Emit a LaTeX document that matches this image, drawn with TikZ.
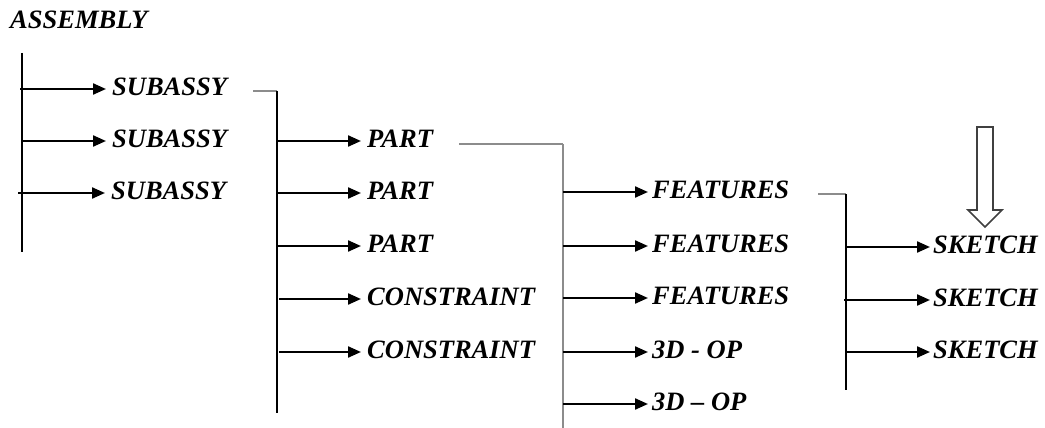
\documentclass[tikz,border=0pt]{standalone}
\usepackage{fontspec}
\setmainfont{Liberation Serif}
\usetikzlibrary{arrows.meta}
\tikzset{
  lbl/.style={anchor=west,inner xsep=6pt,inner ysep=0pt,font=\fontsize{26.5}{30}\selectfont\bfseries\itshape},
  arr/.style={line width=2.2pt,-{Triangle[length=13pt,width=11pt]}},
  trunk/.style={line width=1.6pt,black},
  gtrunk/.style={line width=1.6pt,black!45},
  stub/.style={line width=1.6pt,black!45},
  hollow/.style={line width=1.6pt,black!75,fill=white}
}
\begin{document}
\begin{tikzpicture}[x=1pt,y=-1pt]
\useasboundingbox (0,0) rectangle (1045,428);
% title
\node[lbl,inner xsep=0pt] (asm) at (10,20) {ASSEMBLY};
% level 1
\coordinate (v1t) at (22,53);
\coordinate (v1b) at (22,252);
\draw[trunk] (v1t) -- (v1b);
\coordinate (a1) at (20,89);
\coordinate (a2) at (22,141);
\coordinate (a3) at (18,193);
\node[lbl] (s1) at (106,87) {SUBASSY};
\node[lbl] (s2) at (106,139) {SUBASSY};
\node[lbl] (s3) at (105,191) {SUBASSY};
\draw[arr] (a1) -- (a1 -| s1.west);
\draw[arr] (a2) -- (a2 -| s2.west);
\draw[arr] (a3) -- (a3 -| s3.west);
% level 2
\coordinate (v2t) at (277,91);
\coordinate (v2b) at (277,413);
\draw[stub] ([xshift=20pt]s1.east |- v2t) -- (v2t);
\draw[trunk] (v2t) -- (v2b);
\coordinate (b1) at (277,141);
\coordinate (b2) at (277,193);
\coordinate (b3) at (277,246);
\coordinate (b4) at (279,299);
\coordinate (b5) at (279,352);
\node[lbl] (p1) at (361,139) {PART};
\node[lbl] (p2) at (361,191) {PART};
\node[lbl] (p3) at (361,244) {PART};
\node[lbl] (c1) at (361,297) {CONSTRAINT};
\node[lbl] (c2) at (361,350) {CONSTRAINT};
\draw[arr] (b1) -- (b1 -| p1.west);
\draw[arr] (b2) -- (b2 -| p2.west);
\draw[arr] (b3) -- (b3 -| p3.west);
\draw[arr] (b4) -- (b4 -| c1.west);
\draw[arr] (b5) -- (b5 -| c2.west);
% level 3
\coordinate (v3t) at (563,144);
\coordinate (v3b) at (563,428);
\draw[stub] ([xshift=20pt]p1.east |- v3t) -- (v3t);
\draw[gtrunk] (v3t) -- (v3b);
\coordinate (c3a) at (563,192);
\coordinate (c3b) at (563,246);
\coordinate (c3c) at (563,298);
\coordinate (c3d) at (563,352);
\coordinate (c3e) at (563,404);
\node[lbl,inner xsep=4pt] (f1) at (648,190) {FEATURES};
\node[lbl,inner xsep=4pt] (f2) at (648,244) {FEATURES};
\node[lbl,inner xsep=4pt] (f3) at (648,296) {FEATURES};
\node[lbl,inner xsep=4pt] (o1) at (648,350) {3D - OP};
\node[lbl,inner xsep=4pt] (o2) at (648,402) {3D – OP};
\draw[arr] (c3a) -- (c3a -| f1.west);
\draw[arr] (c3b) -- (c3b -| f2.west);
\draw[arr] (c3c) -- (c3c -| f3.west);
\draw[arr] (c3d) -- (c3d -| o1.west);
\draw[arr] (c3e) -- (c3e -| o2.west);
% level 4
\coordinate (v4t) at (846,194);
\coordinate (v4b) at (846,390);
\draw[stub] ([xshift=25pt]f1.east |- v4t) -- (v4t);
\draw[trunk] (v4t) -- (v4b);
\coordinate (d1) at (846,247);
\coordinate (d2) at (844,300);
\coordinate (d3) at (846,352);
\node[lbl,inner xsep=3pt] (k1) at (930,245) {SKETCH};
\node[lbl,inner xsep=3pt] (k2) at (930,298) {SKETCH};
\node[lbl,inner xsep=3pt] (k3) at (930,350) {SKETCH};
\draw[arr] (d1) -- (d1 -| k1.west);
\draw[arr] (d2) -- (d2 -| k2.west);
\draw[arr] (d3) -- (d3 -| k3.west);
% hollow arrow
\draw[hollow] (977,127) -- (993,127) -- (993,210) -- (1002,210) -- (985,227) -- (968,210) -- (977,210) -- cycle;
\end{tikzpicture}
\end{document}
